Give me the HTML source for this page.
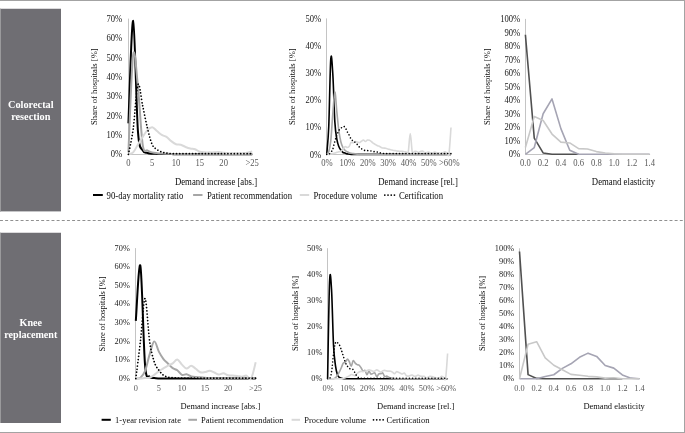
<!DOCTYPE html>
<html><head><meta charset="utf-8"><title>Demand increase charts</title>
<style>
html,body{margin:0;padding:0;background:#fff;}
body{width:685px;height:433px;overflow:hidden;}
svg{display:block;will-change:transform;}
text{font-family:"Liberation Serif", serif;}
.tk{font-size:8.6px;fill:#222222;}
.tkx{fill:#595959;}
.ti{font-size:8.6px;fill:#0d0d0d;}
.lg{fill:#0d0d0d;}
.sb{font-size:10.3px;font-weight:bold;fill:#ffffff;}
</style></head>
<body>
<svg width="685" height="433" viewBox="0 0 685 433">
<rect x="0" y="0" width="685" height="433" fill="#ffffff"/>
<rect x="0" y="0" width="685" height="1" fill="#a3a3a3"/>
<rect x="684" y="0" width="1" height="433" fill="#a3a3a3"/>
<rect x="0" y="432" width="685" height="1" fill="#a3a3a3"/>
<rect x="0" y="8.75" width="61" height="202.65" fill="#6f6e73"/>
<rect x="0" y="8.75" width="1" height="202.65" fill="#9a9a9c"/>
<rect x="0" y="232.75" width="61" height="190.25" fill="#6f6e73"/>
<rect x="0" y="232.75" width="1" height="190.25" fill="#9a9a9c"/>
<text x="30.8" y="107.6" text-anchor="middle" class="sb">Colorectal</text>
<text x="30.8" y="120" text-anchor="middle" class="sb">resection</text>
<text x="30.8" y="325.6" text-anchor="middle" class="sb" style="font-size:10.1px">Knee</text>
<text x="30.8" y="337.6" text-anchor="middle" class="sb" style="font-size:10.1px">replacement</text>
<line x1="0" y1="220.5" x2="684" y2="220.5" stroke="#909090" stroke-width="1" stroke-dasharray="2.95 2.2"/>
<line x1="128.5" y1="18.62" x2="128.5" y2="154.5" stroke="#c4c4c4" stroke-width="1"/>
<line x1="128.5" y1="154.5" x2="252.71" y2="154.5" stroke="#c4c4c4" stroke-width="1"/>
<path d="M128.4,123.36C129.19,106.27 131.57,19.56 133.16,20.85C134.75,22.14 136.34,109.5 137.92,131.09C139.51,152.69 141.1,146.79 142.69,150.43C144.27,154.07 145.86,152.4 147.45,152.95C149.04,153.49 150.62,153.56 152.21,153.72C153.8,153.88 155.38,153.85 156.97,153.91C158.56,153.98 160.15,154.07 161.73,154.11C163.32,154.14 164.91,154.11 166.5,154.11C168.08,154.11 169.67,154.07 171.26,154.11C172.85,154.14 174.43,154.27 176.02,154.3C177.61,154.33 179.19,154.3 180.78,154.3C182.37,154.3 183.96,154.3 185.54,154.3C187.13,154.3 188.72,154.3 190.31,154.3C191.89,154.3 193.48,154.3 195.07,154.3C196.66,154.3 198.24,154.3 199.83,154.3C201.42,154.3 203,154.3 204.59,154.3C206.18,154.3 207.77,154.3 209.35,154.3C210.94,154.3 212.53,154.3 214.12,154.3C215.7,154.3 217.29,154.3 218.88,154.3C220.47,154.3 222.05,154.3 223.64,154.3C225.23,154.3 226.81,154.3 228.4,154.3C229.99,154.3 231.58,154.3 233.16,154.3C234.75,154.3 236.34,154.3 237.93,154.3C239.51,154.3 241.1,154.3 242.69,154.3C244.28,154.3 245.86,154.3 247.45,154.3C249.04,154.3 251.42,154.3 252.21,154.3" fill="none" stroke="#000000" stroke-width="2" stroke-linejoin="round" stroke-linecap="butt"/>
<path d="M128.4,152.37C129.19,136.09 131.57,65.66 133.16,54.7C134.75,43.74 136.34,71.62 137.92,86.61C139.51,101.6 141.1,133.99 142.69,144.63C144.27,155.27 145.86,149.14 147.45,150.43C149.04,151.72 150.62,151.91 152.21,152.37C153.8,152.82 155.38,152.95 156.97,153.14C158.56,153.33 160.15,153.43 161.73,153.53C163.32,153.62 164.91,153.66 166.5,153.72C168.08,153.78 169.67,153.88 171.26,153.91C172.85,153.95 174.43,153.88 176.02,153.91C177.61,153.95 179.19,154.07 180.78,154.11C182.37,154.14 183.96,154.11 185.54,154.11C187.13,154.11 188.72,154.07 190.31,154.11C191.89,154.14 193.48,154.27 195.07,154.3C196.66,154.33 198.24,154.3 199.83,154.3C201.42,154.3 203,154.3 204.59,154.3C206.18,154.3 207.77,154.3 209.35,154.3C210.94,154.3 212.53,154.3 214.12,154.3C215.7,154.3 217.29,154.3 218.88,154.3C220.47,154.3 222.05,154.3 223.64,154.3C225.23,154.3 226.81,154.3 228.4,154.3C229.99,154.3 231.58,154.3 233.16,154.3C234.75,154.3 236.34,154.3 237.93,154.3C239.51,154.3 241.1,154.3 242.69,154.3C244.28,154.3 245.86,154.3 247.45,154.3C249.04,154.3 251.42,154.3 252.21,154.3" fill="none" stroke="#a6a6a6" stroke-width="2" stroke-linejoin="round" stroke-linecap="butt"/>
<path d="M128.4,154.3C129.19,153.98 131.57,153.98 133.16,152.37C134.75,150.75 136.34,147.21 137.92,144.63C139.51,142.05 141.1,139.31 142.69,136.89C144.27,134.48 145.86,131.74 147.45,130.12C149.04,128.51 150.62,127.06 152.21,127.22C153.8,127.39 155.38,129.8 156.97,131.09C158.56,132.38 160.15,133.99 161.73,134.96C163.32,135.93 164.91,135.86 166.5,136.89C168.08,137.93 169.67,139.92 171.26,141.15C172.85,142.37 174.43,143.63 176.02,144.24C177.61,144.86 179.19,144.37 180.78,144.82C182.37,145.27 183.96,146.34 185.54,146.95C187.13,147.56 188.72,148.11 190.31,148.5C191.89,148.88 193.48,148.72 195.07,149.27C196.66,149.82 198.24,151.27 199.83,151.79C201.42,152.3 203,152.27 204.59,152.37C206.18,152.46 207.77,152.37 209.35,152.37C210.94,152.37 212.53,152.43 214.12,152.37C215.7,152.3 217.29,151.91 218.88,151.98C220.47,152.04 222.05,152.53 223.64,152.75C225.23,152.98 226.81,153.24 228.4,153.33C229.99,153.43 231.58,153.37 233.16,153.33C234.75,153.3 236.34,153.17 237.93,153.14C239.51,153.11 241.1,153.2 242.69,153.14C244.28,153.08 245.86,153.01 247.45,152.75C249.04,152.49 251.42,151.79 252.21,151.59" fill="none" stroke="#d9d9d9" stroke-width="2" stroke-linejoin="round" stroke-linecap="butt"/>
<path d="M128.4,154.3C129.19,150.11 131.57,140.76 133.16,129.16C134.75,117.55 136.34,88.54 137.92,84.68C139.51,80.81 141.1,98.7 142.69,105.95C144.27,113.2 145.86,121.74 147.45,128.19C149.04,134.64 150.62,141.08 152.21,144.63C153.8,148.18 155.38,148.24 156.97,149.47C158.56,150.69 160.15,151.37 161.73,151.98C163.32,152.59 164.91,152.87 166.5,153.14C168.08,153.41 169.67,153.53 171.26,153.62C172.85,153.72 174.43,153.7 176.02,153.72C177.61,153.74 179.19,153.72 180.78,153.72C182.37,153.72 183.96,153.72 185.54,153.72C187.13,153.72 188.72,153.72 190.31,153.72C191.89,153.72 193.48,153.72 195.07,153.72C196.66,153.72 198.24,153.72 199.83,153.72C201.42,153.72 203,153.72 204.59,153.72C206.18,153.72 207.77,153.72 209.35,153.72C210.94,153.72 212.53,153.72 214.12,153.72C215.7,153.72 217.29,153.72 218.88,153.72C220.47,153.72 222.05,153.72 223.64,153.72C225.23,153.72 226.81,153.72 228.4,153.72C229.99,153.72 231.58,153.72 233.16,153.72C234.75,153.72 236.34,153.72 237.93,153.72C239.51,153.72 241.1,153.72 242.69,153.72C244.28,153.72 245.86,153.72 247.45,153.72C249.04,153.72 251.42,153.72 252.21,153.72" fill="none" stroke="#000000" stroke-width="1.75" stroke-linejoin="round" stroke-linecap="round" stroke-dasharray="0.01 3.2"/>
<text transform="translate(122.2,157.4) scale(1,1.12)" text-anchor="end" class="tk" style="font-size:8.6px">0%</text>
<text transform="translate(122.2,138.06) scale(1,1.12)" text-anchor="end" class="tk" style="font-size:8.6px">10%</text>
<text transform="translate(122.2,118.72) scale(1,1.12)" text-anchor="end" class="tk" style="font-size:8.6px">20%</text>
<text transform="translate(122.2,99.38) scale(1,1.12)" text-anchor="end" class="tk" style="font-size:8.6px">30%</text>
<text transform="translate(122.2,80.04) scale(1,1.12)" text-anchor="end" class="tk" style="font-size:8.6px">40%</text>
<text transform="translate(122.2,60.7) scale(1,1.12)" text-anchor="end" class="tk" style="font-size:8.6px">50%</text>
<text transform="translate(122.2,41.36) scale(1,1.12)" text-anchor="end" class="tk" style="font-size:8.6px">60%</text>
<text transform="translate(122.2,22.02) scale(1,1.12)" text-anchor="end" class="tk" style="font-size:8.6px">70%</text>
<text transform="translate(128.4,166) scale(1,1.12)" text-anchor="middle" class="tkx" style="font-size:8.6px">0</text>
<text transform="translate(152.21,166) scale(1,1.12)" text-anchor="middle" class="tkx" style="font-size:8.6px">5</text>
<text transform="translate(176.02,166) scale(1,1.12)" text-anchor="middle" class="tkx" style="font-size:8.6px">10</text>
<text transform="translate(199.83,166) scale(1,1.12)" text-anchor="middle" class="tkx" style="font-size:8.6px">15</text>
<text transform="translate(223.64,166) scale(1,1.12)" text-anchor="middle" class="tkx" style="font-size:8.6px">20</text>
<text transform="translate(252.2,166) scale(1,1.12)" text-anchor="middle" class="tkx" style="font-size:8.6px">&gt;25</text>
<text transform="translate(96.6,86.6) rotate(-90)" text-anchor="middle" class="ti" style="font-size:8.6px">Share of hospitals [%]</text>
<text transform="translate(216,185) scale(1,1.12)" text-anchor="middle" class="ti" style="font-size:8.75px">Demand increase [abs.]</text>
<line x1="326.5" y1="18.4" x2="326.5" y2="154.5" stroke="#c4c4c4" stroke-width="1"/>
<line x1="326.5" y1="154.5" x2="451.5" y2="154.5" stroke="#c4c4c4" stroke-width="1"/>
<path d="M326.7,154.4C327.04,149.79 328.06,142.64 328.74,126.72C329.42,110.8 330.1,67.64 330.78,58.87C331.45,50.09 332.13,63.57 332.81,74.07C333.49,84.56 334.17,110.93 334.85,121.83C335.53,132.73 336.21,135.31 336.89,139.47C337.57,143.63 338.25,145.04 338.93,146.8C339.61,148.56 340.28,149.11 340.96,150.06C341.64,151.01 342.32,152 343,152.5C343.68,153 344.36,152.82 345.04,153.04C345.72,153.27 346.4,153.68 347.08,153.86C347.76,154.04 348.44,154.04 349.11,154.13C349.79,154.22 350.47,154.35 351.15,154.4C351.83,154.45 352.51,154.4 353.19,154.4C353.87,154.4 354.55,154.4 355.23,154.4C355.91,154.4 356.59,154.4 357.27,154.4C357.94,154.4 358.62,154.4 359.3,154.4C359.98,154.4 360.66,154.4 361.34,154.4C362.02,154.4 362.7,154.4 363.38,154.4C364.06,154.4 364.74,154.4 365.42,154.4C366.1,154.4 366.77,154.4 367.45,154.4C368.13,154.4 368.81,154.4 369.49,154.4C370.17,154.4 370.85,154.4 371.53,154.4C372.21,154.4 372.89,154.4 373.57,154.4C374.25,154.4 374.93,154.4 375.6,154.4C376.28,154.4 376.96,154.4 377.64,154.4C378.32,154.4 379,154.4 379.68,154.4C380.36,154.4 381.04,154.4 381.72,154.4C382.4,154.4 383.08,154.4 383.76,154.4C384.43,154.4 385.11,154.4 385.79,154.4C386.47,154.4 387.15,154.4 387.83,154.4C388.51,154.4 389.19,154.4 389.87,154.4C390.55,154.4 391.23,154.4 391.91,154.4C392.59,154.4 393.27,154.4 393.94,154.4C394.62,154.4 395.3,154.4 395.98,154.4C396.66,154.4 397.34,154.4 398.02,154.4C398.7,154.4 399.38,154.4 400.06,154.4C400.74,154.4 401.42,154.4 402.1,154.4C402.77,154.4 403.45,154.4 404.13,154.4C404.81,154.4 405.49,154.4 406.17,154.4C406.85,154.4 407.53,154.4 408.21,154.4C408.89,154.4 409.57,154.4 410.25,154.4C410.93,154.4 411.6,154.4 412.28,154.4C412.96,154.4 413.64,154.4 414.32,154.4C415,154.4 415.68,154.4 416.36,154.4C417.04,154.4 417.72,154.4 418.4,154.4C419.08,154.4 419.76,154.4 420.43,154.4C421.11,154.4 421.79,154.4 422.47,154.4C423.15,154.4 423.83,154.4 424.51,154.4C425.19,154.4 425.87,154.4 426.55,154.4C427.23,154.4 427.91,154.4 428.59,154.4C429.26,154.4 429.94,154.4 430.62,154.4C431.3,154.4 431.98,154.4 432.66,154.4C433.34,154.4 434.02,154.4 434.7,154.4C435.38,154.4 436.06,154.4 436.74,154.4C437.42,154.4 438.09,154.4 438.77,154.4C439.45,154.4 440.13,154.4 440.81,154.4C441.49,154.4 442.17,154.4 442.85,154.4C443.53,154.4 444.21,154.4 444.89,154.4C445.57,154.4 446.25,154.4 446.92,154.4C447.6,154.4 448.28,154.4 448.96,154.4C449.64,154.4 450.66,154.4 451,154.4" fill="none" stroke="#000000" stroke-width="1.6" stroke-linejoin="round" stroke-linecap="butt"/>
<path d="M326.7,154.4C327.04,153.95 328.06,153.95 328.74,151.69C329.42,149.42 330.1,147.16 330.78,140.83C331.45,134.5 332.13,121.83 332.81,113.69C333.49,105.55 334.17,92.2 334.85,91.98C335.53,91.75 336.21,105.77 336.89,112.33C337.57,118.89 338.25,126.36 338.93,131.33C339.61,136.31 340.28,139.47 340.96,142.19C341.64,144.9 342.32,146.26 343,147.62C343.68,148.97 344.36,149.65 345.04,150.33C345.72,151.01 346.4,151.28 347.08,151.69C347.76,152.09 348.44,152.5 349.11,152.77C349.79,153.04 350.47,153.18 351.15,153.31C351.83,153.45 352.51,153.5 353.19,153.59C353.87,153.68 354.55,153.77 355.23,153.86C355.91,153.95 356.59,154.04 357.27,154.13C357.94,154.22 358.62,154.35 359.3,154.4C359.98,154.45 360.66,154.4 361.34,154.4C362.02,154.4 362.7,154.4 363.38,154.4C364.06,154.4 364.74,154.4 365.42,154.4C366.1,154.4 366.77,154.4 367.45,154.4C368.13,154.4 368.81,154.4 369.49,154.4C370.17,154.4 370.85,154.4 371.53,154.4C372.21,154.4 372.89,154.4 373.57,154.4C374.25,154.4 374.93,154.4 375.6,154.4C376.28,154.4 376.96,154.4 377.64,154.4C378.32,154.4 379,154.4 379.68,154.4C380.36,154.4 381.04,154.4 381.72,154.4C382.4,154.4 383.08,154.4 383.76,154.4C384.43,154.4 385.11,154.4 385.79,154.4C386.47,154.4 387.15,154.4 387.83,154.4C388.51,154.4 389.19,154.4 389.87,154.4C390.55,154.4 391.23,154.4 391.91,154.4C392.59,154.4 393.27,154.4 393.94,154.4C394.62,154.4 395.3,154.4 395.98,154.4C396.66,154.4 397.34,154.4 398.02,154.4C398.7,154.4 399.38,154.4 400.06,154.4C400.74,154.4 401.42,154.4 402.1,154.4C402.77,154.4 403.45,154.4 404.13,154.4C404.81,154.4 405.49,154.4 406.17,154.4C406.85,154.4 407.53,154.4 408.21,154.4C408.89,154.4 409.57,154.4 410.25,154.4C410.93,154.4 411.6,154.4 412.28,154.4C412.96,154.4 413.64,154.4 414.32,154.4C415,154.4 415.68,154.4 416.36,154.4C417.04,154.4 417.72,154.4 418.4,154.4C419.08,154.4 419.76,154.4 420.43,154.4C421.11,154.4 421.79,154.4 422.47,154.4C423.15,154.4 423.83,154.4 424.51,154.4C425.19,154.4 425.87,154.4 426.55,154.4C427.23,154.4 427.91,154.4 428.59,154.4C429.26,154.4 429.94,154.4 430.62,154.4C431.3,154.4 431.98,154.4 432.66,154.4C433.34,154.4 434.02,154.4 434.7,154.4C435.38,154.4 436.06,154.4 436.74,154.4C437.42,154.4 438.09,154.4 438.77,154.4C439.45,154.4 440.13,154.4 440.81,154.4C441.49,154.4 442.17,154.4 442.85,154.4C443.53,154.4 444.21,154.4 444.89,154.4C445.57,154.4 446.25,154.4 446.92,154.4C447.6,154.4 448.28,154.4 448.96,154.4C449.64,154.4 450.66,154.4 451,154.4" fill="none" stroke="#a6a6a6" stroke-width="1.6" stroke-linejoin="round" stroke-linecap="butt"/>
<path d="M326.7,154.4C327.04,154.4 328.06,154.49 328.74,154.4C329.42,154.31 330.1,154.02 330.78,153.88C331.45,153.75 332.13,153.72 332.81,153.59C333.49,153.45 334.17,153.29 334.85,153.07C335.53,152.85 336.21,152.5 336.89,152.28C337.57,152.06 338.25,151.92 338.93,151.74C339.61,151.56 340.28,151.62 340.96,151.2C341.64,150.78 342.32,149.98 343,149.22C343.68,148.45 344.36,146.91 345.04,146.61C345.72,146.31 346.4,147.45 347.08,147.43C347.76,147.4 348.44,147.31 349.11,146.48C349.79,145.64 350.47,143.05 351.15,142.43C351.83,141.81 352.51,142.92 353.19,142.76C353.87,142.6 354.55,141.62 355.23,141.48C355.91,141.35 356.59,141.76 357.27,141.94C357.94,142.13 358.62,142.7 359.3,142.59C359.98,142.49 360.66,141.72 361.34,141.29C362.02,140.86 362.7,139.98 363.38,140.02C364.06,140.06 364.74,141.53 365.42,141.54C366.1,141.54 366.77,140.24 367.45,140.04C368.13,139.84 368.81,140.06 369.49,140.34C370.17,140.63 370.85,141.23 371.53,141.75C372.21,142.27 372.89,142.98 373.57,143.46C374.25,143.94 374.93,144.25 375.6,144.63C376.28,145.01 376.96,145.47 377.64,145.77C378.32,146.07 379,146.1 379.68,146.42C380.36,146.74 381.04,147.42 381.72,147.7C382.4,147.98 383.08,148.02 383.76,148.1C384.43,148.19 385.11,148.05 385.79,148.21C386.47,148.37 387.15,148.84 387.83,149.05C388.51,149.27 389.19,149.37 389.87,149.51C390.55,149.66 391.23,149.79 391.91,149.95C392.59,150.11 393.27,150.33 393.94,150.46C394.62,150.6 395.3,150.62 395.98,150.74C396.66,150.85 397.34,151.05 398.02,151.14C398.7,151.23 399.38,151.24 400.06,151.28C400.74,151.32 401.42,151.32 402.1,151.39C402.77,151.46 403.45,151.6 404.13,151.69C404.81,151.78 405.49,151.84 406.17,151.93C406.85,152.02 407.53,155.3 408.21,152.23C408.89,149.16 409.57,133.5 410.25,133.5C410.93,133.5 411.6,149.21 412.28,152.23C412.96,155.25 413.64,151.74 414.32,151.6C415,151.47 415.68,151.25 416.36,151.41C417.04,151.58 417.72,152.55 418.4,152.58C419.08,152.61 419.76,151.85 420.43,151.58C421.11,151.31 421.79,150.8 422.47,150.95C423.15,151.11 423.83,152.22 424.51,152.5C425.19,152.78 425.87,152.72 426.55,152.64C427.23,152.55 427.91,151.96 428.59,152.01C429.26,152.06 429.94,152.79 430.62,152.93C431.3,153.08 431.98,153.04 432.66,152.88C433.34,152.72 434.02,151.97 434.7,151.96C435.38,151.95 436.06,152.64 436.74,152.83C437.42,153.02 438.09,153.02 438.77,153.1C439.45,153.17 440.13,153.31 440.81,153.26C441.49,153.21 442.17,153 442.85,152.77C443.53,152.54 444.21,151.85 444.89,151.88C445.57,151.9 446.25,152.58 446.92,152.91C447.6,153.24 448.28,158.09 448.96,153.86C449.64,149.63 450.66,131.92 451,127.53" fill="none" stroke="#d9d9d9" stroke-width="1.6" stroke-linejoin="round" stroke-linecap="butt"/>
<path d="M326.7,154.4C327.04,154.4 328.06,154.75 328.74,154.4C329.42,154.05 330.1,153.17 330.78,152.28C331.45,151.4 332.13,150.94 332.81,149.11C333.49,147.28 334.17,143.64 334.85,141.29C335.53,138.94 336.21,136.84 336.89,135.02C337.57,133.2 338.25,131.48 338.93,130.35C339.61,129.23 340.28,128.88 340.96,128.26C341.64,127.64 342.32,126.82 343,126.64C343.68,126.45 344.36,126.35 345.04,127.15C345.72,127.95 346.4,130.15 347.08,131.44C347.76,132.73 348.44,133.59 349.11,134.89C349.79,136.18 350.47,138.22 351.15,139.23C351.83,140.23 352.51,140.38 353.19,140.91C353.87,141.44 354.55,141.82 355.23,142.4C355.91,142.99 356.59,143.68 357.27,144.44C357.94,145.2 358.62,146.29 359.3,146.99C359.98,147.69 360.66,148.15 361.34,148.65C362.02,149.14 362.7,149.66 363.38,149.98C364.06,150.29 364.74,150.41 365.42,150.52C366.1,150.62 366.77,150.56 367.45,150.6C368.13,150.65 368.81,150.71 369.49,150.79C370.17,150.87 370.85,150.94 371.53,151.06C372.21,151.18 372.89,151.36 373.57,151.5C374.25,151.63 374.93,151.77 375.6,151.88C376.28,151.98 376.96,151.98 377.64,152.12C378.32,152.26 379,152.56 379.68,152.74C380.36,152.93 381.04,153.08 381.72,153.21C382.4,153.33 383.08,153.41 383.76,153.48C384.43,153.54 385.11,153.57 385.79,153.59C386.47,153.6 387.15,153.59 387.83,153.59C388.51,153.59 389.19,153.59 389.87,153.59C390.55,153.59 391.23,153.59 391.91,153.59C392.59,153.59 393.27,153.59 393.94,153.59C394.62,153.59 395.3,153.59 395.98,153.59C396.66,153.59 397.34,153.59 398.02,153.59C398.7,153.59 399.38,153.59 400.06,153.59C400.74,153.59 401.42,153.59 402.1,153.59C402.77,153.59 403.45,153.59 404.13,153.59C404.81,153.59 405.49,153.59 406.17,153.59C406.85,153.59 407.53,153.59 408.21,153.59C408.89,153.59 409.57,153.59 410.25,153.59C410.93,153.59 411.6,153.59 412.28,153.59C412.96,153.59 413.64,153.59 414.32,153.59C415,153.59 415.68,153.59 416.36,153.59C417.04,153.59 417.72,153.59 418.4,153.59C419.08,153.59 419.76,153.59 420.43,153.59C421.11,153.59 421.79,153.59 422.47,153.59C423.15,153.59 423.83,153.59 424.51,153.59C425.19,153.59 425.87,153.59 426.55,153.59C427.23,153.59 427.91,153.59 428.59,153.59C429.26,153.59 429.94,153.59 430.62,153.59C431.3,153.59 431.98,153.59 432.66,153.59C433.34,153.59 434.02,153.59 434.7,153.59C435.38,153.59 436.06,153.59 436.74,153.59C437.42,153.59 438.09,153.59 438.77,153.59C439.45,153.59 440.13,153.59 440.81,153.59C441.49,153.59 442.17,153.59 442.85,153.59C443.53,153.59 444.21,153.59 444.89,153.59C445.57,153.59 446.25,153.59 446.92,153.59C447.6,153.59 448.28,153.59 448.96,153.59C449.64,153.59 450.66,153.59 451,153.59" fill="none" stroke="#000000" stroke-width="1.6" stroke-linejoin="round" stroke-linecap="round" stroke-dasharray="0.01 3.2"/>
<text transform="translate(321.2,157.5) scale(1,1.12)" text-anchor="end" class="tk" style="font-size:8.6px">0%</text>
<text transform="translate(321.2,130.36) scale(1,1.12)" text-anchor="end" class="tk" style="font-size:8.6px">10%</text>
<text transform="translate(321.2,103.22) scale(1,1.12)" text-anchor="end" class="tk" style="font-size:8.6px">20%</text>
<text transform="translate(321.2,76.08) scale(1,1.12)" text-anchor="end" class="tk" style="font-size:8.6px">30%</text>
<text transform="translate(321.2,48.94) scale(1,1.12)" text-anchor="end" class="tk" style="font-size:8.6px">40%</text>
<text transform="translate(321.2,21.8) scale(1,1.12)" text-anchor="end" class="tk" style="font-size:8.6px">50%</text>
<text transform="translate(327,166) scale(1,1.12)" text-anchor="middle" class="tkx" style="font-size:8.6px">0%</text>
<text transform="translate(347.38,166) scale(1,1.12)" text-anchor="middle" class="tkx" style="font-size:8.6px">10%</text>
<text transform="translate(367.75,166) scale(1,1.12)" text-anchor="middle" class="tkx" style="font-size:8.6px">20%</text>
<text transform="translate(388.13,166) scale(1,1.12)" text-anchor="middle" class="tkx" style="font-size:8.6px">30%</text>
<text transform="translate(408.51,166) scale(1,1.12)" text-anchor="middle" class="tkx" style="font-size:8.6px">40%</text>
<text transform="translate(428.89,166) scale(1,1.12)" text-anchor="middle" class="tkx" style="font-size:8.6px">50%</text>
<text transform="translate(449.3,166) scale(1,1.12)" text-anchor="middle" class="tkx" style="font-size:8.6px">&gt;60%</text>
<text transform="translate(295,86.6) rotate(-90)" text-anchor="middle" class="ti" style="font-size:8.6px">Share of hospitals [%]</text>
<text transform="translate(418.1,185) scale(1,1.12)" text-anchor="middle" class="ti" style="font-size:8.75px">Demand increase [rel.]</text>
<line x1="525.5" y1="18.9" x2="525.5" y2="154.5" stroke="#c4c4c4" stroke-width="1"/>
<line x1="525.5" y1="154.5" x2="650.1" y2="154.5" stroke="#c4c4c4" stroke-width="1"/>
<path d="M525.4,34.74 L534.27,138.09 L543.14,152.95 L552.01,154.3 L560.89,154.3 L569.76,154.3 L578.63,154.3" fill="none" stroke="#505050" stroke-width="1.6" stroke-linejoin="round" stroke-linecap="butt"/>
<path d="M525.4,154.3 L534.27,147.55 L543.14,113.77 L552.01,98.91 L560.89,128.63 L569.76,150.25 L578.63,154.3 L587.5,154.3 L596.37,154.3 L605.24,154.3 L614.11,154.3 L622.99,154.3 L631.86,154.3 L640.73,154.3 L649.6,154.3" fill="none" stroke="#a5a4b3" stroke-width="1.6" stroke-linejoin="round" stroke-linecap="butt"/>
<path d="M525.4,147.55 L534.27,116.47 L543.14,120.53 L552.01,134.04 L560.89,142.14 L569.76,142.95 L578.63,148.63 L587.5,149.03 L596.37,151.6 L605.24,152.95 L614.11,153.89 L622.99,154.3 L631.86,154.3 L640.73,154.3 L649.6,154.3" fill="none" stroke="#c8c8c8" stroke-width="1.6" stroke-linejoin="round" stroke-linecap="butt"/>
<text transform="translate(520.2,157.4) scale(1,1.12)" text-anchor="end" class="tk" style="font-size:8.6px">0%</text>
<text transform="translate(520.2,143.89) scale(1,1.12)" text-anchor="end" class="tk" style="font-size:8.6px">10%</text>
<text transform="translate(520.2,130.38) scale(1,1.12)" text-anchor="end" class="tk" style="font-size:8.6px">20%</text>
<text transform="translate(520.2,116.87) scale(1,1.12)" text-anchor="end" class="tk" style="font-size:8.6px">30%</text>
<text transform="translate(520.2,103.36) scale(1,1.12)" text-anchor="end" class="tk" style="font-size:8.6px">40%</text>
<text transform="translate(520.2,89.85) scale(1,1.12)" text-anchor="end" class="tk" style="font-size:8.6px">50%</text>
<text transform="translate(520.2,76.34) scale(1,1.12)" text-anchor="end" class="tk" style="font-size:8.6px">60%</text>
<text transform="translate(520.2,62.83) scale(1,1.12)" text-anchor="end" class="tk" style="font-size:8.6px">70%</text>
<text transform="translate(520.2,49.32) scale(1,1.12)" text-anchor="end" class="tk" style="font-size:8.6px">80%</text>
<text transform="translate(520.2,35.81) scale(1,1.12)" text-anchor="end" class="tk" style="font-size:8.6px">90%</text>
<text transform="translate(520.2,22.3) scale(1,1.12)" text-anchor="end" class="tk" style="font-size:8.6px">100%</text>
<text transform="translate(525.4,166) scale(1,1.12)" text-anchor="middle" class="tkx" style="font-size:8.6px">0.0</text>
<text transform="translate(543.14,166) scale(1,1.12)" text-anchor="middle" class="tkx" style="font-size:8.6px">0.2</text>
<text transform="translate(560.89,166) scale(1,1.12)" text-anchor="middle" class="tkx" style="font-size:8.6px">0.4</text>
<text transform="translate(578.63,166) scale(1,1.12)" text-anchor="middle" class="tkx" style="font-size:8.6px">0.6</text>
<text transform="translate(596.37,166) scale(1,1.12)" text-anchor="middle" class="tkx" style="font-size:8.6px">0.8</text>
<text transform="translate(614.11,166) scale(1,1.12)" text-anchor="middle" class="tkx" style="font-size:8.6px">1.0</text>
<text transform="translate(631.86,166) scale(1,1.12)" text-anchor="middle" class="tkx" style="font-size:8.6px">1.2</text>
<text transform="translate(649.6,166) scale(1,1.12)" text-anchor="middle" class="tkx" style="font-size:8.6px">1.4</text>
<text transform="translate(489.8,86.6) rotate(-90)" text-anchor="middle" class="ti" style="font-size:8.6px">Share of hospitals [%]</text>
<text transform="translate(623.5,185) scale(1,1.12)" text-anchor="middle" class="ti" style="font-size:8.75px">Demand elasticity</text>
<line x1="135.5" y1="248.1" x2="135.5" y2="378.5" stroke="#c4c4c4" stroke-width="1"/>
<line x1="135.5" y1="378.5" x2="256.21" y2="378.5" stroke="#c4c4c4" stroke-width="1"/>
<path d="M135.8,320.94C136.57,311.76 138.87,258.6 140.41,265.88C141.95,273.17 143.49,346.17 145.02,364.65C146.56,383.13 148.1,374.51 149.64,376.74C151.17,378.97 152.71,377.76 154.25,378.04C155.79,378.32 157.32,378.34 158.86,378.41C160.4,378.49 161.93,378.48 163.47,378.51C165.01,378.54 166.55,378.58 168.08,378.6C169.62,378.62 171.16,378.6 172.7,378.6C174.23,378.6 175.77,378.6 177.31,378.6C178.85,378.6 180.38,378.6 181.92,378.6C183.46,378.6 184.99,378.6 186.53,378.6C188.07,378.6 189.61,378.6 191.14,378.6C192.68,378.6 194.22,378.6 195.76,378.6C197.29,378.6 198.83,378.6 200.37,378.6C201.91,378.6 203.44,378.6 204.98,378.6C206.52,378.6 208.05,378.6 209.59,378.6C211.13,378.6 212.67,378.6 214.2,378.6C215.74,378.6 217.28,378.6 218.82,378.6C220.35,378.6 221.89,378.6 223.43,378.6C224.97,378.6 226.5,378.6 228.04,378.6C229.58,378.6 231.11,378.6 232.65,378.6C234.19,378.6 235.73,378.6 237.26,378.6C238.8,378.6 240.34,378.6 241.88,378.6C243.41,378.6 244.95,378.6 246.49,378.6C248.03,378.6 249.56,378.6 251.1,378.6C252.64,378.6 254.94,378.6 255.71,378.6" fill="none" stroke="#000000" stroke-width="2" stroke-linejoin="round" stroke-linecap="butt"/>
<path d="M135.8,378.6C136.57,378.45 138.87,378.91 140.41,377.67C141.95,376.43 143.49,375.04 145.02,371.16C146.56,367.29 148.1,359.38 149.64,354.42C151.17,349.46 152.71,341.87 154.25,341.4C155.79,340.94 157.32,348.69 158.86,351.63C160.4,354.57 161.93,357.06 163.47,359.07C165.01,361.09 166.55,362.2 168.08,363.72C169.62,365.24 171.16,367.1 172.7,368.18C174.23,369.27 175.77,369.11 177.31,370.23C178.85,371.35 180.38,374.2 181.92,374.88C183.46,375.56 184.99,374.07 186.53,374.32C188.07,374.57 189.61,375.9 191.14,376.37C192.68,376.83 194.22,376.96 195.76,377.11C197.29,377.27 198.83,377.17 200.37,377.3C201.91,377.42 203.44,377.72 204.98,377.86C206.52,378 208.05,378.07 209.59,378.14C211.13,378.2 212.67,378.2 214.2,378.23C215.74,378.26 217.28,378.31 218.82,378.32C220.35,378.34 221.89,378.32 223.43,378.32C224.97,378.32 226.5,378.32 228.04,378.32C229.58,378.32 231.11,378.32 232.65,378.32C234.19,378.32 235.73,378.32 237.26,378.32C238.8,378.32 240.34,378.32 241.88,378.32C243.41,378.32 244.95,378.32 246.49,378.32C248.03,378.32 249.56,378.32 251.1,378.32C252.64,378.32 254.94,378.32 255.71,378.32" fill="none" stroke="#a6a6a6" stroke-width="2" stroke-linejoin="round" stroke-linecap="butt"/>
<path d="M135.8,378.6C136.57,378.6 138.87,378.69 140.41,378.6C141.95,378.51 143.49,378.2 145.02,378.04C146.56,377.89 148.1,378.2 149.64,377.67C151.17,377.14 152.71,375.96 154.25,374.88C155.79,373.8 157.32,372.25 158.86,371.16C160.4,370.08 161.93,369.3 163.47,368.37C165.01,367.44 166.55,366.42 168.08,365.58C169.62,364.74 171.16,364.37 172.7,363.35C174.23,362.32 175.77,359.23 177.31,359.44C178.85,359.66 180.38,363.13 181.92,364.65C183.46,366.17 184.99,368.37 186.53,368.56C188.07,368.74 189.61,365.74 191.14,365.77C192.68,365.8 194.22,367.66 195.76,368.74C197.29,369.83 198.83,371.72 200.37,372.28C201.91,372.83 203.44,372.34 204.98,372.09C206.52,371.84 208.05,370.73 209.59,370.79C211.13,370.85 212.67,371.84 214.2,372.46C215.74,373.08 217.28,374.38 218.82,374.51C220.35,374.63 221.89,373.08 223.43,373.21C224.97,373.33 226.5,374.88 228.04,375.25C229.58,375.62 231.11,375.31 232.65,375.44C234.19,375.56 235.73,375.78 237.26,376C238.8,376.21 240.34,376.8 241.88,376.74C243.41,376.68 244.95,375.31 246.49,375.62C248.03,375.93 249.56,380.83 251.1,378.6C252.64,376.37 254.94,364.96 255.71,362.23" fill="none" stroke="#d9d9d9" stroke-width="2" stroke-linejoin="round" stroke-linecap="butt"/>
<path d="M135.8,378.6C136.57,372.4 138.87,354.73 140.41,341.4C141.95,328.07 143.49,298.62 145.02,298.62C146.56,298.62 148.1,330.86 149.64,341.4C151.17,351.94 152.71,357.06 154.25,361.86C155.79,366.67 157.32,368 158.86,370.23C160.4,372.46 161.93,374.11 163.47,375.25C165.01,376.4 166.55,376.71 168.08,377.11C169.62,377.52 171.16,377.51 172.7,377.67C174.23,377.83 175.77,377.96 177.31,378.04C178.85,378.12 180.38,378.12 181.92,378.14C183.46,378.15 184.99,378.14 186.53,378.14C188.07,378.14 189.61,378.14 191.14,378.14C192.68,378.14 194.22,378.14 195.76,378.14C197.29,378.14 198.83,378.14 200.37,378.14C201.91,378.14 203.44,378.14 204.98,378.14C206.52,378.14 208.05,378.14 209.59,378.14C211.13,378.14 212.67,378.14 214.2,378.14C215.74,378.14 217.28,378.14 218.82,378.14C220.35,378.14 221.89,378.14 223.43,378.14C224.97,378.14 226.5,378.14 228.04,378.14C229.58,378.14 231.11,378.14 232.65,378.14C234.19,378.14 235.73,378.14 237.26,378.14C238.8,378.14 240.34,378.14 241.88,378.14C243.41,378.14 244.95,378.14 246.49,378.14C248.03,378.14 249.56,378.14 251.1,378.14C252.64,378.14 254.94,378.14 255.71,378.14" fill="none" stroke="#000000" stroke-width="1.75" stroke-linejoin="round" stroke-linecap="round" stroke-dasharray="0.01 3.2"/>
<text transform="translate(129.8,380.8) scale(1,1)" text-anchor="end" class="tk" style="font-size:8.3px">0%</text>
<text transform="translate(129.8,362.2) scale(1,1)" text-anchor="end" class="tk" style="font-size:8.3px">10%</text>
<text transform="translate(129.8,343.6) scale(1,1)" text-anchor="end" class="tk" style="font-size:8.3px">20%</text>
<text transform="translate(129.8,325) scale(1,1)" text-anchor="end" class="tk" style="font-size:8.3px">30%</text>
<text transform="translate(129.8,306.4) scale(1,1)" text-anchor="end" class="tk" style="font-size:8.3px">40%</text>
<text transform="translate(129.8,287.8) scale(1,1)" text-anchor="end" class="tk" style="font-size:8.3px">50%</text>
<text transform="translate(129.8,269.2) scale(1,1)" text-anchor="end" class="tk" style="font-size:8.3px">60%</text>
<text transform="translate(129.8,250.6) scale(1,1)" text-anchor="end" class="tk" style="font-size:8.3px">70%</text>
<text transform="translate(135.8,390.5) scale(1,1)" text-anchor="middle" class="tkx" style="font-size:8.3px">0</text>
<text transform="translate(158.86,390.5) scale(1,1)" text-anchor="middle" class="tkx" style="font-size:8.3px">5</text>
<text transform="translate(181.92,390.5) scale(1,1)" text-anchor="middle" class="tkx" style="font-size:8.3px">10</text>
<text transform="translate(204.98,390.5) scale(1,1)" text-anchor="middle" class="tkx" style="font-size:8.3px">15</text>
<text transform="translate(228.04,390.5) scale(1,1)" text-anchor="middle" class="tkx" style="font-size:8.3px">20</text>
<text transform="translate(255.5,390.5) scale(1,1)" text-anchor="middle" class="tkx" style="font-size:8.3px">&gt;25</text>
<text transform="translate(104.5,314) rotate(-90)" text-anchor="middle" class="ti" style="font-size:8.42px">Share of hospitals [%]</text>
<text transform="translate(220.4,409) scale(1,1)" text-anchor="middle" class="ti" style="font-size:8.47px">Demand increase [abs.]</text>
<line x1="327.5" y1="248.2" x2="327.5" y2="378.5" stroke="#c4c4c4" stroke-width="1"/>
<line x1="327.5" y1="378.5" x2="448.1" y2="378.5" stroke="#c4c4c4" stroke-width="1"/>
<path d="M327.6,378.7C327.93,362.51 328.91,296.46 329.57,281.57C330.22,266.68 330.88,278.84 331.53,289.38C332.19,299.93 332.85,332.13 333.5,344.85C334.16,357.56 334.81,360.69 335.47,365.68C336.12,370.67 336.78,372.84 337.44,374.79C338.09,376.75 338.75,376.83 339.4,377.4C340.06,377.96 340.71,377.96 341.37,378.18C342.03,378.4 342.68,378.61 343.34,378.7C343.99,378.79 344.65,378.7 345.3,378.7C345.96,378.7 346.62,378.7 347.27,378.7C347.93,378.7 348.58,378.7 349.24,378.7C349.9,378.7 350.55,378.7 351.21,378.7C351.86,378.7 352.52,378.7 353.17,378.7C353.83,378.7 354.49,378.7 355.14,378.7C355.8,378.7 356.45,378.7 357.11,378.7C357.76,378.7 358.42,378.7 359.08,378.7C359.73,378.7 360.39,378.7 361.04,378.7C361.7,378.7 362.35,378.7 363.01,378.7C363.67,378.7 364.32,378.7 364.98,378.7C365.63,378.7 366.29,378.7 366.94,378.7C367.6,378.7 368.26,378.7 368.91,378.7C369.57,378.7 370.22,378.7 370.88,378.7C371.53,378.7 372.19,378.7 372.85,378.7C373.5,378.7 374.16,378.7 374.81,378.7C375.47,378.7 376.12,378.7 376.78,378.7C377.44,378.7 378.09,378.7 378.75,378.7C379.4,378.7 380.06,378.7 380.71,378.7C381.37,378.7 382.03,378.7 382.68,378.7C383.34,378.7 383.99,378.7 384.65,378.7C385.3,378.7 385.96,378.7 386.62,378.7C387.27,378.7 387.93,378.7 388.58,378.7C389.24,378.7 389.9,378.7 390.55,378.7C391.21,378.7 391.86,378.7 392.52,378.7C393.17,378.7 393.83,378.7 394.49,378.7C395.14,378.7 395.8,378.7 396.45,378.7C397.11,378.7 397.76,378.7 398.42,378.7C399.08,378.7 399.73,378.7 400.39,378.7C401.04,378.7 401.7,378.7 402.35,378.7C403.01,378.7 403.67,378.7 404.32,378.7C404.98,378.7 405.63,378.7 406.29,378.7C406.94,378.7 407.6,378.7 408.26,378.7C408.91,378.7 409.57,378.7 410.22,378.7C410.88,378.7 411.53,378.7 412.19,378.7C412.85,378.7 413.5,378.7 414.16,378.7C414.81,378.7 415.47,378.7 416.12,378.7C416.78,378.7 417.44,378.7 418.09,378.7C418.75,378.7 419.4,378.7 420.06,378.7C420.71,378.7 421.37,378.7 422.03,378.7C422.68,378.7 423.34,378.7 423.99,378.7C424.65,378.7 425.3,378.7 425.96,378.7C426.62,378.7 427.27,378.7 427.93,378.7C428.58,378.7 429.24,378.7 429.9,378.7C430.55,378.7 431.21,378.7 431.86,378.7C432.52,378.7 433.17,378.7 433.83,378.7C434.49,378.7 435.14,378.7 435.8,378.7C436.45,378.7 437.11,378.7 437.76,378.7C438.42,378.7 439.08,378.7 439.73,378.7C440.39,378.7 441.04,378.7 441.7,378.7C442.35,378.7 443.01,378.7 443.67,378.7C444.32,378.7 444.98,378.7 445.63,378.7C446.29,378.7 447.27,378.7 447.6,378.7" fill="none" stroke="#000000" stroke-width="1.6" stroke-linejoin="round" stroke-linecap="butt"/>
<path d="M327.6,378.7C327.93,378.7 328.91,378.7 329.57,378.7C330.22,378.7 330.88,378.7 331.53,378.7C332.19,378.7 332.85,378.83 333.5,378.7C334.16,378.57 334.81,378.48 335.47,377.92C336.12,377.35 336.78,376.31 337.44,375.31C338.09,374.32 338.75,373.23 339.4,371.93C340.06,370.63 340.71,368.98 341.37,367.5C342.03,366.03 342.68,363.94 343.34,363.08C343.99,362.21 344.65,362.95 345.3,362.29C345.96,361.64 346.62,359.3 347.27,359.17C347.93,359.04 348.58,360.34 349.24,361.51C349.9,362.69 350.55,366.33 351.21,366.2C351.86,366.07 352.52,361.25 353.17,360.73C353.83,360.21 354.49,362.42 355.14,363.08C355.8,363.73 356.45,364.29 357.11,364.64C357.76,364.99 358.42,364.64 359.08,365.16C359.73,365.68 360.39,366.76 361.04,367.76C361.7,368.76 362.35,370.71 363.01,371.15C363.67,371.58 364.32,369.76 364.98,370.37C365.63,370.97 366.29,374.66 366.94,374.79C367.6,374.92 368.26,371.28 368.91,371.15C369.57,371.02 370.22,373.62 370.88,374.01C371.53,374.4 372.19,373.67 372.85,373.49C373.5,373.32 374.16,372.45 374.81,372.97C375.47,373.49 376.12,376.44 376.78,376.62C377.44,376.79 378.09,374.49 378.75,374.01C379.4,373.54 380.06,373.93 380.71,373.75C381.37,373.58 382.03,372.49 382.68,372.97C383.34,373.45 383.99,376.1 384.65,376.62C385.3,377.14 385.96,376.01 386.62,376.1C387.27,376.18 387.93,376.83 388.58,377.14C389.24,377.44 389.9,377.75 390.55,377.92C391.21,378.09 391.86,378.09 392.52,378.18C393.17,378.27 393.83,378.35 394.49,378.44C395.14,378.53 395.8,378.66 396.45,378.7C397.11,378.74 397.76,378.7 398.42,378.7C399.08,378.7 399.73,378.7 400.39,378.7C401.04,378.7 401.7,378.7 402.35,378.7C403.01,378.7 403.67,378.7 404.32,378.7C404.98,378.7 405.63,378.7 406.29,378.7C406.94,378.7 407.6,378.7 408.26,378.7C408.91,378.7 409.57,378.7 410.22,378.7C410.88,378.7 411.53,378.7 412.19,378.7C412.85,378.7 413.5,378.7 414.16,378.7C414.81,378.7 415.47,378.7 416.12,378.7C416.78,378.7 417.44,378.7 418.09,378.7C418.75,378.7 419.4,378.7 420.06,378.7C420.71,378.7 421.37,378.7 422.03,378.7C422.68,378.7 423.34,378.7 423.99,378.7C424.65,378.7 425.3,378.7 425.96,378.7C426.62,378.7 427.27,378.7 427.93,378.7C428.58,378.7 429.24,378.7 429.9,378.7C430.55,378.7 431.21,378.7 431.86,378.7C432.52,378.7 433.17,378.7 433.83,378.7C434.49,378.7 435.14,378.7 435.8,378.7C436.45,378.7 437.11,378.7 437.76,378.7C438.42,378.7 439.08,378.7 439.73,378.7C440.39,378.7 441.04,378.7 441.7,378.7C442.35,378.7 443.01,378.7 443.67,378.7C444.32,378.7 444.98,378.7 445.63,378.7C446.29,378.7 447.27,378.7 447.6,378.7" fill="none" stroke="#a6a6a6" stroke-width="1.6" stroke-linejoin="round" stroke-linecap="butt"/>
<path d="M327.6,378.7C327.93,378.7 328.91,378.7 329.57,378.7C330.22,378.7 330.88,378.7 331.53,378.7C332.19,378.7 332.85,378.7 333.5,378.7C334.16,378.7 334.81,378.7 335.47,378.7C336.12,378.7 336.78,378.7 337.44,378.7C338.09,378.7 338.75,378.7 339.4,378.7C340.06,378.7 340.71,378.74 341.37,378.7C342.03,378.66 342.68,378.61 343.34,378.44C343.99,378.27 344.65,377.92 345.3,377.66C345.96,377.4 346.62,377.18 347.27,376.88C347.93,376.57 348.58,376.23 349.24,375.84C349.9,375.44 350.55,374.66 351.21,374.53C351.86,374.4 352.52,374.88 353.17,375.05C353.83,375.23 354.49,375.84 355.14,375.58C355.8,375.31 356.45,374.1 357.11,373.49C357.76,372.88 358.42,372.28 359.08,371.93C359.73,371.58 360.39,371.45 361.04,371.41C361.7,371.37 362.35,371.71 363.01,371.67C363.67,371.63 364.32,371.32 364.98,371.15C365.63,370.97 366.29,370.84 366.94,370.63C367.6,370.41 368.26,369.89 368.91,369.85C369.57,369.8 370.22,370.15 370.88,370.37C371.53,370.58 372.19,371.06 372.85,371.15C373.5,371.24 374.16,371.1 374.81,370.89C375.47,370.67 376.12,369.85 376.78,369.85C377.44,369.85 378.09,370.5 378.75,370.89C379.4,371.28 380.06,372.19 380.71,372.19C381.37,372.19 382.03,371.19 382.68,370.89C383.34,370.58 383.99,370.37 384.65,370.37C385.3,370.37 385.96,370.76 386.62,370.89C387.27,371.02 387.93,371.1 388.58,371.15C389.24,371.19 389.9,370.97 390.55,371.15C391.21,371.32 391.86,371.76 392.52,372.19C393.17,372.62 393.83,373.84 394.49,373.75C395.14,373.67 395.8,371.93 396.45,371.67C397.11,371.41 397.76,371.93 398.42,372.19C399.08,372.45 399.73,372.93 400.39,373.23C401.04,373.54 401.7,374.06 402.35,374.01C403.01,373.97 403.67,372.71 404.32,372.97C404.98,373.23 405.63,375.05 406.29,375.58C406.94,376.1 407.6,376.1 408.26,376.1C408.91,376.1 409.57,375.75 410.22,375.58C410.88,375.4 411.53,374.92 412.19,375.05C412.85,375.18 413.5,376.18 414.16,376.36C414.81,376.53 415.47,376.31 416.12,376.1C416.78,375.88 417.44,375.05 418.09,375.05C418.75,375.05 419.4,375.88 420.06,376.1C420.71,376.31 421.37,376.31 422.03,376.36C422.68,376.4 423.34,376.1 423.99,376.36C424.65,376.62 425.3,377.79 425.96,377.92C426.62,378.05 427.27,377.4 427.93,377.14C428.58,376.88 429.24,376.44 429.9,376.36C430.55,376.27 431.21,376.49 431.86,376.62C432.52,376.75 433.17,376.92 433.83,377.14C434.49,377.35 435.14,377.72 435.8,377.92C436.45,378.11 437.11,378.35 437.76,378.31C438.42,378.27 439.08,377.98 439.73,377.66C440.39,377.33 441.04,376.4 441.7,376.36C442.35,376.31 443.01,377.09 443.67,377.4C444.32,377.7 444.98,382.17 445.63,378.18C446.29,374.19 447.27,357.56 447.6,353.44" fill="none" stroke="#d9d9d9" stroke-width="1.6" stroke-linejoin="round" stroke-linecap="butt"/>
<path d="M327.6,378.7C327.93,378.7 328.91,379.78 329.57,378.7C330.22,377.62 330.88,376.31 331.53,372.19C332.19,368.07 332.85,358.87 333.5,353.96C334.16,349.06 334.81,344.63 335.47,342.76C336.12,340.9 336.78,342.42 337.44,342.76C338.09,343.11 338.75,343.63 339.4,344.85C340.06,346.06 340.71,348.19 341.37,350.06C342.03,351.92 342.68,354.01 343.34,356.05C343.99,358.08 344.65,360.65 345.3,362.29C345.96,363.94 346.62,364.94 347.27,365.94C347.93,366.94 348.58,367.76 349.24,368.28C349.9,368.8 350.55,368.85 351.21,369.07C351.86,369.28 352.52,368.89 353.17,369.59C353.83,370.28 354.49,372.1 355.14,373.23C355.8,374.36 356.45,375.58 357.11,376.36C357.76,377.14 358.42,377.62 359.08,377.92C359.73,378.22 360.39,378.14 361.04,378.18C361.7,378.22 362.35,378.18 363.01,378.18C363.67,378.18 364.32,378.18 364.98,378.18C365.63,378.18 366.29,378.18 366.94,378.18C367.6,378.18 368.26,378.18 368.91,378.18C369.57,378.18 370.22,378.18 370.88,378.18C371.53,378.18 372.19,378.18 372.85,378.18C373.5,378.18 374.16,378.18 374.81,378.18C375.47,378.18 376.12,378.18 376.78,378.18C377.44,378.18 378.09,378.18 378.75,378.18C379.4,378.18 380.06,378.18 380.71,378.18C381.37,378.18 382.03,378.18 382.68,378.18C383.34,378.18 383.99,378.18 384.65,378.18C385.3,378.18 385.96,378.18 386.62,378.18C387.27,378.18 387.93,378.18 388.58,378.18C389.24,378.18 389.9,378.18 390.55,378.18C391.21,378.18 391.86,378.18 392.52,378.18C393.17,378.18 393.83,378.18 394.49,378.18C395.14,378.18 395.8,378.18 396.45,378.18C397.11,378.18 397.76,378.18 398.42,378.18C399.08,378.18 399.73,378.18 400.39,378.18C401.04,378.18 401.7,378.18 402.35,378.18C403.01,378.18 403.67,378.18 404.32,378.18C404.98,378.18 405.63,378.18 406.29,378.18C406.94,378.18 407.6,378.18 408.26,378.18C408.91,378.18 409.57,378.18 410.22,378.18C410.88,378.18 411.53,378.18 412.19,378.18C412.85,378.18 413.5,378.18 414.16,378.18C414.81,378.18 415.47,378.18 416.12,378.18C416.78,378.18 417.44,378.18 418.09,378.18C418.75,378.18 419.4,378.18 420.06,378.18C420.71,378.18 421.37,378.18 422.03,378.18C422.68,378.18 423.34,378.18 423.99,378.18C424.65,378.18 425.3,378.18 425.96,378.18C426.62,378.18 427.27,378.18 427.93,378.18C428.58,378.18 429.24,378.18 429.9,378.18C430.55,378.18 431.21,378.18 431.86,378.18C432.52,378.18 433.17,378.18 433.83,378.18C434.49,378.18 435.14,378.18 435.8,378.18C436.45,378.18 437.11,378.18 437.76,378.18C438.42,378.18 439.08,378.18 439.73,378.18C440.39,378.18 441.04,378.18 441.7,378.18C442.35,378.18 443.01,378.18 443.67,378.18C444.32,378.18 444.98,378.18 445.63,378.18C446.29,378.18 447.27,378.18 447.6,378.18" fill="none" stroke="#000000" stroke-width="1.6" stroke-linejoin="round" stroke-linecap="round" stroke-dasharray="0.01 3.2"/>
<text transform="translate(322.3,380.9) scale(1,1)" text-anchor="end" class="tk" style="font-size:8.3px">0%</text>
<text transform="translate(322.3,354.86) scale(1,1)" text-anchor="end" class="tk" style="font-size:8.3px">10%</text>
<text transform="translate(322.3,328.82) scale(1,1)" text-anchor="end" class="tk" style="font-size:8.3px">20%</text>
<text transform="translate(322.3,302.78) scale(1,1)" text-anchor="end" class="tk" style="font-size:8.3px">30%</text>
<text transform="translate(322.3,276.74) scale(1,1)" text-anchor="end" class="tk" style="font-size:8.3px">40%</text>
<text transform="translate(322.3,250.7) scale(1,1)" text-anchor="end" class="tk" style="font-size:8.3px">50%</text>
<text transform="translate(328.1,390.5) scale(1,1)" text-anchor="middle" class="tkx" style="font-size:8.3px">0%</text>
<text transform="translate(347.77,390.5) scale(1,1)" text-anchor="middle" class="tkx" style="font-size:8.3px">10%</text>
<text transform="translate(367.44,390.5) scale(1,1)" text-anchor="middle" class="tkx" style="font-size:8.3px">20%</text>
<text transform="translate(387.12,390.5) scale(1,1)" text-anchor="middle" class="tkx" style="font-size:8.3px">30%</text>
<text transform="translate(406.79,390.5) scale(1,1)" text-anchor="middle" class="tkx" style="font-size:8.3px">40%</text>
<text transform="translate(426.46,390.5) scale(1,1)" text-anchor="middle" class="tkx" style="font-size:8.3px">50%</text>
<text transform="translate(446.2,390.5) scale(1,1)" text-anchor="middle" class="tkx" style="font-size:8.3px">&gt;60%</text>
<text transform="translate(297.7,313.5) rotate(-90)" text-anchor="middle" class="ti" style="font-size:8.42px">Share of hospitals [%]</text>
<text transform="translate(415.7,409) scale(1,1)" text-anchor="middle" class="ti" style="font-size:8.47px">Demand increase [rel.]</text>
<line x1="519.5" y1="248.3" x2="519.5" y2="378.5" stroke="#c4c4c4" stroke-width="1"/>
<line x1="519.5" y1="378.5" x2="640" y2="378.5" stroke="#c4c4c4" stroke-width="1"/>
<path d="M519.5,251.46 L528.07,374.63 L536.64,378.41 L545.21,378.8 L553.79,378.8 L562.36,378.8 L570.93,378.8 L579.5,378.8 L588.07,378.8 L596.64,378.8 L605.21,378.8 L613.79,378.8 L622.36,378.8" fill="none" stroke="#505050" stroke-width="1.6" stroke-linejoin="round" stroke-linecap="butt"/>
<path d="M519.5,378.8 L528.07,378.8 L536.64,378.8 L545.21,376.59 L553.79,374.76 L562.36,368.38 L570.93,363.83 L579.5,357.32 L588.07,353.15 L596.64,356.41 L605.21,365.52 L613.79,368.12 L622.36,374.89 L630.93,378.15 L639.5,378.8" fill="none" stroke="#a5a4b3" stroke-width="1.6" stroke-linejoin="round" stroke-linecap="butt"/>
<path d="M519.5,378.8 L528.07,344.3 L536.64,341.69 L545.21,357.97 L553.79,365.26 L562.36,369.82 L570.93,374.37 L579.5,375.28 L588.07,376.33 L596.64,376.85 L605.21,378.15 L613.79,377.76 L622.36,378.8 L630.93,378.8 L639.5,378.8" fill="none" stroke="#c8c8c8" stroke-width="1.6" stroke-linejoin="round" stroke-linecap="butt"/>
<text transform="translate(514.2,381) scale(1,1)" text-anchor="end" class="tk" style="font-size:8.3px">0%</text>
<text transform="translate(514.2,367.98) scale(1,1)" text-anchor="end" class="tk" style="font-size:8.3px">10%</text>
<text transform="translate(514.2,354.96) scale(1,1)" text-anchor="end" class="tk" style="font-size:8.3px">20%</text>
<text transform="translate(514.2,341.94) scale(1,1)" text-anchor="end" class="tk" style="font-size:8.3px">30%</text>
<text transform="translate(514.2,328.92) scale(1,1)" text-anchor="end" class="tk" style="font-size:8.3px">40%</text>
<text transform="translate(514.2,315.9) scale(1,1)" text-anchor="end" class="tk" style="font-size:8.3px">50%</text>
<text transform="translate(514.2,302.88) scale(1,1)" text-anchor="end" class="tk" style="font-size:8.3px">60%</text>
<text transform="translate(514.2,289.86) scale(1,1)" text-anchor="end" class="tk" style="font-size:8.3px">70%</text>
<text transform="translate(514.2,276.84) scale(1,1)" text-anchor="end" class="tk" style="font-size:8.3px">80%</text>
<text transform="translate(514.2,263.82) scale(1,1)" text-anchor="end" class="tk" style="font-size:8.3px">90%</text>
<text transform="translate(514.2,250.8) scale(1,1)" text-anchor="end" class="tk" style="font-size:8.3px">100%</text>
<text transform="translate(519.5,390.5) scale(1,1)" text-anchor="middle" class="tkx" style="font-size:8.3px">0.0</text>
<text transform="translate(536.64,390.5) scale(1,1)" text-anchor="middle" class="tkx" style="font-size:8.3px">0.2</text>
<text transform="translate(553.79,390.5) scale(1,1)" text-anchor="middle" class="tkx" style="font-size:8.3px">0.4</text>
<text transform="translate(570.93,390.5) scale(1,1)" text-anchor="middle" class="tkx" style="font-size:8.3px">0.6</text>
<text transform="translate(588.07,390.5) scale(1,1)" text-anchor="middle" class="tkx" style="font-size:8.3px">0.8</text>
<text transform="translate(605.21,390.5) scale(1,1)" text-anchor="middle" class="tkx" style="font-size:8.3px">1.0</text>
<text transform="translate(622.36,390.5) scale(1,1)" text-anchor="middle" class="tkx" style="font-size:8.3px">1.2</text>
<text transform="translate(639.5,390.5) scale(1,1)" text-anchor="middle" class="tkx" style="font-size:8.3px">1.4</text>
<text transform="translate(484.8,313.5) rotate(-90)" text-anchor="middle" class="ti" style="font-size:8.42px">Share of hospitals [%]</text>
<text transform="translate(614.1,409) scale(1,1)" text-anchor="middle" class="ti" style="font-size:8.47px">Demand elasticity</text>
<line x1="93" y1="195" x2="102.8" y2="195" stroke="#000000" stroke-width="2"/>
<text transform="translate(106.6,198.6) scale(1,1.1)" class="lg" style="font-size:8.75px">90-day mortality ratio</text>
<line x1="193.1" y1="195" x2="202.5" y2="195" stroke="#a6a6a6" stroke-width="2"/>
<text transform="translate(206.9,198.6) scale(1,1.1)" class="lg" style="font-size:8.75px">Patient recommendation</text>
<line x1="299.8" y1="195" x2="309.2" y2="195" stroke="#d9d9d9" stroke-width="2"/>
<text transform="translate(313.4,198.6) scale(1,1.1)" class="lg" style="font-size:8.75px">Procedure volume</text>
<line x1="384.79999999999995" y1="195" x2="395.6" y2="195" stroke="#000000" stroke-width="1.75" stroke-dasharray="0.01 3.2" stroke-linecap="round"/>
<text transform="translate(398.9,198.6) scale(1,1.1)" class="lg" style="font-size:8.75px">Certification</text>
<line x1="101.6" y1="419.8" x2="110.8" y2="419.8" stroke="#000000" stroke-width="2"/>
<text transform="translate(115.1,422.8) scale(1,1)" class="lg" style="font-size:8.47px">1-year revision rate</text>
<line x1="188.3" y1="419.8" x2="197" y2="419.8" stroke="#a6a6a6" stroke-width="2"/>
<text transform="translate(201,422.8) scale(1,1)" class="lg" style="font-size:8.47px">Patient recommendation</text>
<line x1="291.6" y1="419.8" x2="300" y2="419.8" stroke="#d9d9d9" stroke-width="2"/>
<text transform="translate(304.2,422.8) scale(1,1)" class="lg" style="font-size:8.47px">Procedure volume</text>
<line x1="373.5" y1="419.8" x2="384.3" y2="419.8" stroke="#000000" stroke-width="1.75" stroke-dasharray="0.01 3.2" stroke-linecap="round"/>
<text transform="translate(386.6,422.8) scale(1,1)" class="lg" style="font-size:8.47px">Certification</text>
</svg>
</body></html>
